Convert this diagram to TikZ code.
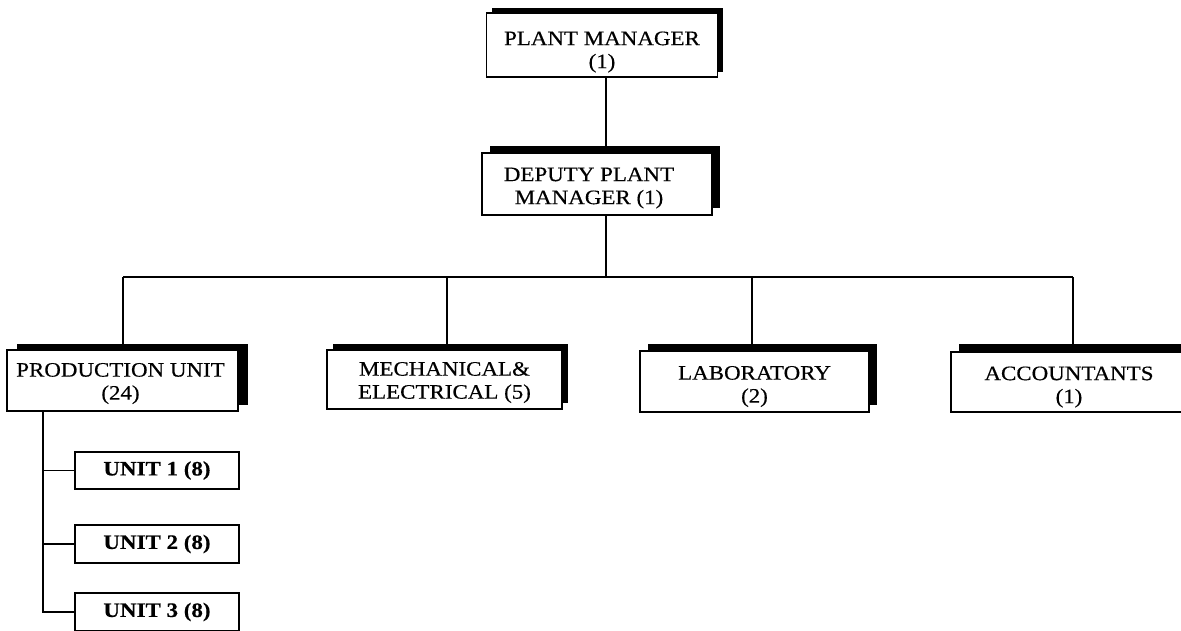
\documentclass[tikz,border=0pt]{standalone}
\usepackage{fontspec}
\setmainfont[FakeStretch=1.12, FakeBold=0.4]{Liberation Serif}
\usetikzlibrary{shadows}
\tikzset{
  orgbox/.style={draw=black, line width=1.8pt, fill=white, rectangle, inner sep=0pt},
  boxtext/.style={align=center, inner sep=0pt, font=\fontsize{20.5}{23}\selectfont},
  shad/.style 2 args={drop shadow={shadow xshift=#1pt, shadow yshift=#2pt, fill=black, opacity=1}},
  unitbox/.style={draw=black, line width=1.8pt, fill=white, rectangle, inner sep=0pt,
    align=center, font=\fontsize{20.5}{23}\selectfont\bfseries, minimum width=164pt},
  link/.style={line width=1.8pt, draw=black}
}
\begin{document}
\begin{tikzpicture}[x=1pt,y=-1pt]
\useasboundingbox (0,0) rectangle (1181,630);
\clip (0,0) rectangle (1181,630);

\node[orgbox, shad={5}{5}, minimum width=231pt, minimum height=64pt,
  label={[boxtext, yshift=-7pt]center:{PLANT MANAGER\\(1)}}] (pm) at (602,45) {};
\node[orgbox, shad={8}{7}, minimum width=230pt, minimum height=62pt,
  label={[boxtext, yshift=-4pt, xshift=-8pt]center:{DEPUTY PLANT\\MANAGER (1)}}] (dep) at (597,184) {};

\node[orgbox, shad={10}{6}, minimum width=231pt, minimum height=61pt,
  label={[boxtext, yshift=-3pt, xshift=-2pt]center:{PRODUCTION UNIT\\(24)}}] (prod) at (122.5,380.5) {};
\node[orgbox, shad={6}{6}, minimum width=235pt, minimum height=59pt,
  label={[boxtext, yshift=-3pt]center:{MECHANICAL\&\\ELECTRICAL (5)}}] (mech) at (444.5,379.5) {};
\node[orgbox, shad={8}{7}, minimum width=229pt, minimum height=61pt,
  label={[boxtext, yshift=-5pt]center:{LABORATORY\\(2)}}] (lab) at (754.5,381.5) {};
\node[orgbox, shad={8}{8}, minimum width=244pt, minimum height=60pt,
  label={[boxtext, yshift=-5pt, xshift=-4pt]center:{ACCOUNTANTS\\(1)}}] (acct) at (1073,382) {};

\node[unitbox, minimum height=37pt] (u1) at (157,470.5) {UNIT 1 (8)};
\node[unitbox, minimum height=38pt] (u2) at (157,544) {UNIT 2 (8)};
\node[unitbox, minimum height=38pt] (u3) at (157,612) {UNIT 3 (8)};

\coordinate (trunk) at (606,277);
\coordinate (b1) at (123,277);
\coordinate (b2) at (447,277);
\coordinate (b3) at (752,277);
\coordinate (b4) at (1073,277);
\coordinate (spine) at (43,411);

\draw[link] (trunk |- pm.south) -- (trunk |- dep.north);
\draw[link] (trunk |- dep.south) -- (trunk);
\draw[link] (b1) -- (b4);
\draw[link] (b1) -- (b1 |- prod.north);
\draw[link] (b2) -- (b2 |- mech.north);
\draw[link] (b3) -- (b3 |- lab.north);
\draw[link] (b4) -- (b4 |- acct.north);

\draw[link] (spine |- prod.south) -- (spine |- u3.west) -- (u3.west);
\draw[link] (spine |- u1.west) -- (u1.west);
\draw[link] (spine |- u2.west) -- (u2.west);
\end{tikzpicture}
\end{document}
